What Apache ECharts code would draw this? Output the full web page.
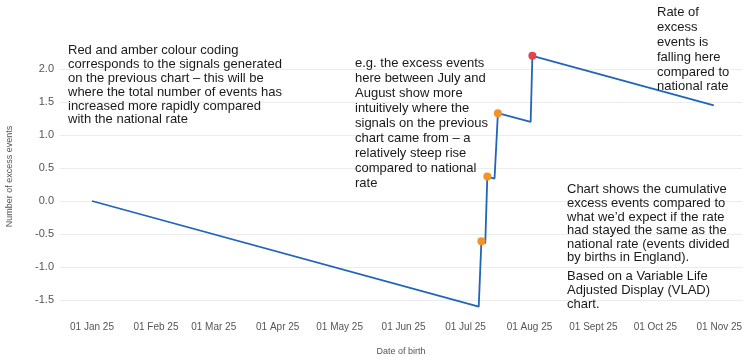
<!DOCTYPE html>
<html>
<head>
<meta charset="utf-8">
<script src="https://cdn.jsdelivr.net/npm/echarts@6/dist/echarts.min.js"></script>
<style>html,body{margin:0;padding:0;background:#fff}#c{width:745px;height:362px}</style>
</head>
<body>
<div id="c"></div>
<script>
// Data
const dates = ['2025-01-01T00:00', '2025-07-07T10:00', '2025-07-08T17:00', '2025-07-10T14:00', '2025-07-11T14:00',
  '2025-07-15T02:00', '2025-07-16T17:00', '2025-08-01T14:00', '2025-08-02T10:00', '2025-10-29T08:00'];
const excess = [0.00, -1.60, -0.61, -0.64, 0.37, 0.34, 1.33, 1.20, 2.20, 1.45];
const signals = [null, null, 'amber', null, 'amber', null, 'amber', null, 'red', null];
const tickDates = ['2025-01-01', '2025-02-01', '2025-03-01', '2025-04-01', '2025-05-01', '2025-06-01',
  '2025-07-01', '2025-08-01', '2025-09-01', '2025-10-01', '2025-11-01'];
const monthNames = ['Jan', 'Feb', 'Mar', 'Apr', 'May', 'Jun', 'Jul', 'Aug', 'Sept', 'Oct', 'Nov', 'Dec'];

const notes = [
  {lines: ['Red and amber colour coding', 'corresponds to the signals generated', 'on the previous chart \u2013 this will be',
    'where the total number of events has', 'increased more rapidly compared', 'with the national rate'], x: 68, y: 44, lh: 13.8},
  {lines: ['e.g. the excess events', 'here between July and', 'August show more', 'intuitively where the',
    'signals on the previous', 'chart came from \u2013 a', 'relatively steep rise', 'compared to national', 'rate'], x: 355, y: 55.5, lh: 15},
  {lines: ['Rate of', 'excess', 'events is', 'falling here', 'compared to', 'national rate'], x: 657, y: 5.5, lh: 14.8},
  {lines: ['Chart shows the cumulative', 'excess events compared to', 'what we\u2019d expect if the rate', 'had stayed the same as the',
    'national rate (events divided', 'by births in England).'], x: 567, y: 183, lh: 13.6},
  {lines: ['Based on a Variable Life', 'Adjusted Display (VLAD)', 'chart.'], x: 567, y: 270, lh: 13.6}
];

const toMs = s => new Date(s.length === 10 ? s + 'T00:00' : s).getTime();
const colors = {amber: '#f0932b', red: '#e0474c'};
const seriesData = dates.map((d, i) => {
  const item = {value: [toMs(d), excess[i]]};
  if (signals[i]) {
    item.symbol = 'circle';
    item.symbolSize = 8;
    item.itemStyle = {color: colors[signals[i]]};
  }
  return item;
});

const chart = echarts.init(document.getElementById('c'), null, {renderer: 'canvas'});
chart.setOption({
  animation: false,
  backgroundColor: '#fff',
  grid: {left: 60, right: 3, top: 69, bottom: 62, containLabel: false, outerBoundsMode: 'none'},
  xAxis: {
    type: 'value',
    min: toMs('2024-12-16T12:00'),
    max: toMs('2025-11-12T00:00'),
    name: 'Date of birth',
    nameLocation: 'middle',
    nameGap: 47,
    nameTextStyle: {fontSize: 9, color: '#555', fontFamily: 'Liberation Sans'},
    axisLine: {show: false},
    axisTick: {show: false},
    splitLine: {show: false},
    axisLabel: {
      customValues: tickDates.map(toMs),
      fontSize: 10,
      color: '#555',
      margin: 22,
      fontFamily: 'Liberation Sans',
      formatter: function (v) {
        const d = new Date(v);
        const dd = String(d.getDate()).padStart(2, '0');
        return dd + ' ' + monthNames[d.getMonth()] + ' ' + String(d.getFullYear()).slice(2);
      }
    }
  },
  yAxis: {
    type: 'value',
    min: -1.5,
    max: 2.0,
    interval: 0.5,
    name: 'Number of excess events',
    nameLocation: 'middle',
    nameGap: 46,
    nameTextStyle: {fontSize: 9, color: '#555', fontFamily: 'Liberation Sans', padding: [0, 0, 0, 16]},
    axisLine: {show: false},
    axisTick: {show: false},
    splitLine: {show: true, lineStyle: {color: '#ececec', width: 1}},
    axisLabel: {
      fontSize: 11,
      color: '#555',
      margin: 6,
      fontFamily: 'Liberation Sans',
      formatter: v => v.toFixed(1)
    }
  },
  series: [{
    type: 'line',
    data: seriesData,
    clip: false,
    symbol: 'none',
    showSymbol: true,
    lineStyle: {color: '#2065b8', width: 1.8},
    itemStyle: {color: '#2065b8'},
    z: 3
  }],
  graphic: notes.map(n => ({
    type: 'text',
    left: n.x,
    top: n.y,
    z: 10,
    style: {
      text: n.lines.join('\n'),
      font: '13px "Liberation Sans", Arial, sans-serif',
      lineHeight: n.lh,
      fill: '#1a1a1a'
    }
  }))
});
</script>
</body>
</html>
